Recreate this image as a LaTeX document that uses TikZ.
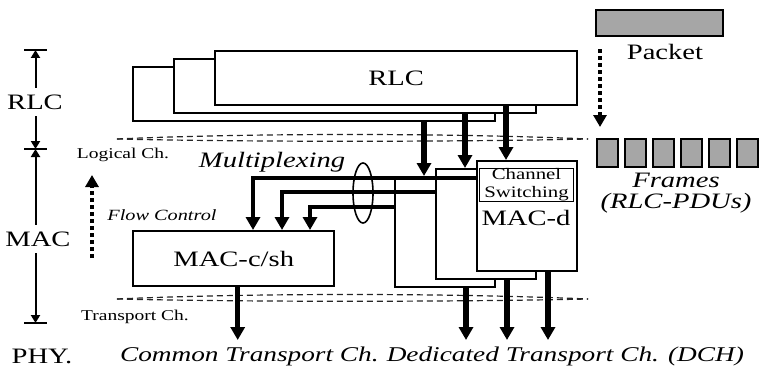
\documentclass[tikz,border=0pt]{standalone}
\usepackage{fontspec}
\setmainfont{Liberation Serif}[FakeStretch=1.3]
\usetikzlibrary{arrows.meta,shapes.geometric}

\tikzset{
	blk/.style={draw, fill=white, line width=1.2pt, anchor=north west, inner sep=0pt},
	rlcbox/.style={blk, minimum width=181pt, minimum height=27pt},
	macbox/.style={blk, minimum width=50pt, minimum height=55pt},
	big/.style={line width=2.6pt, -{Triangle[length=6.5pt,width=7pt]}},
	feed/.style={line width=2pt, -{Triangle[length=6.5pt,width=7pt]}},
	scalebar/.style={line width=1pt, -{Triangle[length=4pt,width=4.5pt]}},
	dots/.style={line width=2pt, dash pattern=on 2pt off 1.5pt, -{Triangle[length=6pt,width=6.5pt]}},
	band/.style={black!85, line width=0.6pt, dash pattern=on 3pt off 2pt},
	pdu/.style={draw, line width=1.2pt, fill=black!35, anchor=north west, inner sep=0pt},
	lbl/.style={font=\fontsize{11}{13}\selectfont},
	ital/.style={font=\fontsize{11}{10.5}\selectfont\itshape},
	btm/.style={font=\fontsize{10.5}{12}\selectfont\itshape},
	sml/.style={font=\fontsize{7.5}{9}\selectfont},
	smit/.style={font=\fontsize{7.8}{9}\selectfont\itshape},
}

\begin{document}
\begin{tikzpicture}[x=0.5pt, y=-0.5pt]
	\useasboundingbox (0,0) rectangle (759,369);

	\draw[band] (117,139) .. controls (250,133) and (450,133) .. (588,139);
	\draw[band] (117,139) .. controls (250,142) and (450,142) .. (588,139);
	\draw[band] (117,299) .. controls (250,293) and (450,293) .. (588,299);
	\draw[band] (117,299) .. controls (250,302) and (450,302) .. (588,299);

	\node[rlcbox] (rlcC) at (132,66) {};
	\node[rlcbox] (rlcB) at (173,58) {};
	\node[rlcbox, lbl] (rlcA) at (214,50) {RLC};

	\node[macbox] (macC) at (394,176) {};
	\node[macbox] (macB) at (435,168) {};
	\node[macbox] (macA) at (476,160) {};
	\node[draw, line width=0.5pt, font=\fontsize{8}{9}\selectfont, align=center, minimum width=47pt, minimum height=16pt,
		inner sep=0pt, anchor=north west] (chsw) at (479,168) {Channel\\Switching};
	\node[lbl] (macd) at (526,218) {MAC-d};

	\node[blk, lbl, minimum width=100.5pt, minimum height=27.5pt] (macsh) at (132,230) {MAC-c/sh};

	\coordinate (tip) at (0,340);
	\foreach \r/\m in {rlcA/macA, rlcB/macB, rlcC/macC}
		\draw[big] ([xshift=15pt]\m.north west |- \r.south) -- ([xshift=15pt]\m.north west);
	\foreach \m in {macA, macB, macC}
		\draw[big] ([xshift=36pt]\m.south west) -- ([xshift=36pt]\m.south west |- tip);
	\draw[big] ([xshift=2pt]macsh.south) -- ([xshift=2pt]macsh.south |- tip);

	\draw[feed] ([yshift=-9pt]macA.north west) -| ([xshift=60.5pt]macsh.north west);
	\draw[feed] ([yshift=-12pt]macB.north west) -| ([xshift=75pt]macsh.north west);
	\draw[feed] ([yshift=-15.5pt]macC.north west) -| ([xshift=89pt]macsh.north west);
	\node[draw, ellipse, line width=0.8pt, minimum width=10pt, minimum height=30pt, inner sep=0pt] (mux) at (363,193) {};

	\coordinate (tA) at (35.5,50);
	\coordinate (tB) at (35.5,149);
	\coordinate (tC) at (35.5,323);
	\foreach \t in {tA, tB, tC}
		\draw[line width=1pt] ([xshift=-5.75pt]\t) -- ([xshift=5.75pt]\t);
	\node[lbl] (rlcL) at (35,102) {RLC};
	\node[lbl] (macL) at (38,239) {MAC};
	\draw[scalebar] (rlcL.north -| tA) -- (tA);
	\draw[scalebar] (rlcL.south -| tB) -- (tB);
	\draw[scalebar] (macL.north -| tB) -- (tB);
	\draw[scalebar] (macL.south -| tC) -- (tC);

	\coordinate (fcA) at (92,258);
	\coordinate (fcB) at (92,175);
	\draw[dots] (fcA) -- (fcB);

	\node[sml] (logch) at (123,155) {Logical Ch.};
	\node[sml] (trch) at (135,317) {Transport Ch.};
	\node[smit] (flow) at (162,215) {Flow Control};
	\node[ital] (mplx) at (272,162) {Multiplexing};
	\node[lbl] (phy) at (42,356) {PHY.};
	\node[btm, anchor=west] (cmn) at (113,356) {Common Transport Ch.};
	\node[btm, anchor=east] (ded) at (751,356) {Dedicated Transport Ch. (DCH)};

	\node[pdu, minimum width=63.5pt, minimum height=13pt] (pkt) at (595,9) {};
	\node[lbl] (pktL) at (665,52) {Packet};
	\foreach \i in {0,...,5}
		\node[pdu, minimum width=10.5pt, minimum height=14pt] (frm\i) at ({596+28*\i},138) {};
	\draw[dots] ([xshift=2.5pt,yshift=-6pt]pkt.south west) -- ([xshift=2pt,yshift=5.5pt]frm0.north west);
	\node[ital, align=center] (frmL) at (676,193) {Frames\\(RLC-PDUs)};
\end{tikzpicture}
\end{document}
